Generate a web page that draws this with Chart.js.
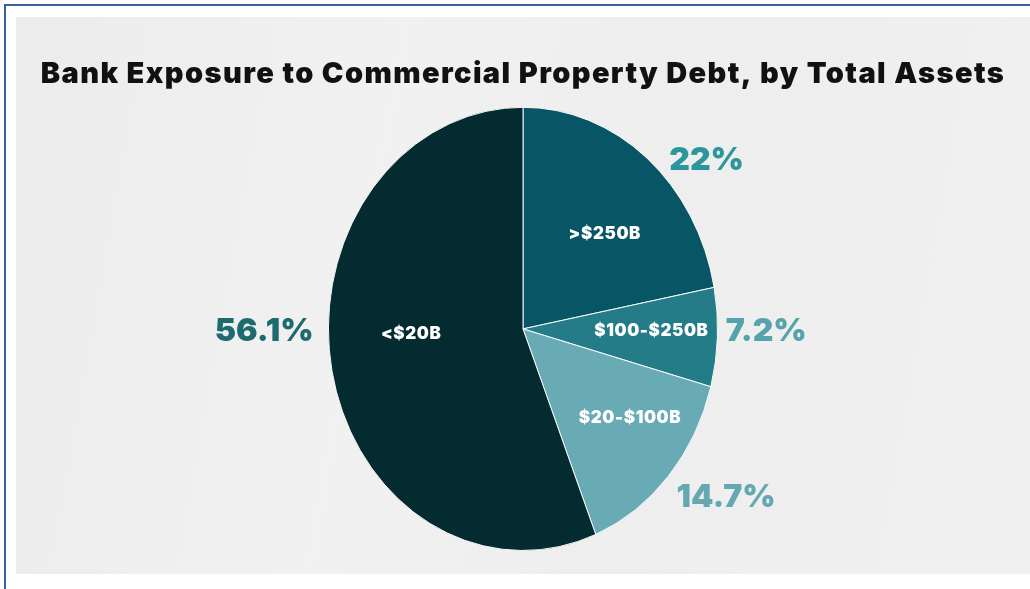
<!DOCTYPE html>
<html>
<head>
<meta charset="utf-8">
<script src="https://cdn.jsdelivr.net/npm/chart.js@4.4.0/dist/chart.umd.min.js"></script>
<style>
    html, body { margin: 0; padding: 0; background: #ffffff; }
    #frame {
        position: absolute; left: 4px; top: 4px; width: 1030px; height: 589px;
        border-top: 2px solid #3d5f9f; border-left: 2px solid #3d5f9f;
    }
    #panel {
        position: absolute; left: 16px; top: 17px; width: 1014px; height: 557px;
        background: linear-gradient(100deg, #ececec 0%, #f1f1f1 35%, #eeeeee 60%, #f0f0f0 100%);
    }
    #wrap { position: absolute; left: 0; top: 0; width: 1030px; height: 589px; }
</style>
</head>
<body>
<div id="frame"></div>
<div id="panel"></div>
<div id="wrap"><canvas id="exposureChart" width="1030" height="589"></canvas></div>
<script>
// Datos del gráfico (orden horario desde las 12)
const categories = ['>$250B', '$100-$250B', '$20-$100B', '<$20B'];
const shares = [22, 7.2, 14.7, 56.1];

// Colores
const sliceColors = ['#085665', '#237c87', '#69abb4', '#032b30'];
const pctColors = ['#2b979d', '#55a4ad', '#66a8b1', '#1d6b6f'];

// Ajustes de posición de etiquetas (estilo)
const squashX = 0.878;
const innerFrac = [0.6, 0.66, 0.68, 0.575];
const innerTweak = [4.9, -1.4, -5.6, 8.8];
const outerFrac = [1.216, 1.25, 1.29, 1.33];
const outerTweak = [11.3, -1.8, -5.6, 10.6];

const FONT = 'Inter, "Open Sans", sans-serif';

// Espaciado de letras para el título
const spacingPlugin = {
    id: 'spacing',
    beforeDraw(chart) { chart.ctx.letterSpacing = '1.4px'; },
    beforeDatasetsDraw(chart) { chart.ctx.letterSpacing = '0px'; }
};

// Aplastar el pastel para que sea una elipse
const ellipsePlugin = {
    id: 'ellipse',
    beforeDatasetsDraw(chart) {
        const arc = chart.getDatasetMeta(0).data[0];
        const ctx = chart.ctx;
        ctx.save();
        ctx.translate(arc.x, arc.y);
        ctx.scale(squashX, 1);
        ctx.translate(-arc.x, -arc.y);
    },
    afterDatasetsDraw(chart) {
        const ctx = chart.ctx;
        ctx.restore();

        const meta = chart.getDatasetMeta(0);
        ctx.save();
        ctx.textAlign = 'center';
        ctx.textBaseline = 'middle';
        meta.data.forEach((arc, i) => {
            const mid = (arc.startAngle + arc.endAngle) / 2;
            const r = arc.outerRadius;

            // Etiqueta interior
            let a = mid + innerTweak[i] * Math.PI / 180;
            let x = arc.x + Math.cos(a) * r * innerFrac[i] * squashX;
            let y = arc.y + Math.sin(a) * r * innerFrac[i];
            ctx.fillStyle = '#ffffff';
            ctx.letterSpacing = '0.6px';
            ctx.font = '900 17px ' + FONT;
            ctx.fillText(categories[i], x, y);

            // Porcentaje exterior
            a = mid + outerTweak[i] * Math.PI / 180;
            x = arc.x + Math.cos(a) * r * outerFrac[i] * squashX;
            y = arc.y + Math.sin(a) * r * outerFrac[i];
            ctx.fillStyle = pctColors[i];
            ctx.letterSpacing = '0px';
            ctx.font = '900 32px ' + FONT;
            ctx.fillText(shares[i] + '%', x, y + 1);
        });
        ctx.restore();
    }
};

new Chart(document.getElementById('exposureChart'), {
    type: 'pie',
    data: {
        labels: categories,
        datasets: [{
            data: shares,
            backgroundColor: sliceColors,
            borderColor: '#ffffff',
            borderWidth: 1
        }]
    },
    options: {
        responsive: false,
        devicePixelRatio: 1,
        animation: false,
        events: [],
        layout: {
            padding: { top: 40, left: 16, right: 0, bottom: 38 }
        },
        plugins: {
            legend: { display: false },
            tooltip: { enabled: false },
            title: {
                display: true,
                text: 'Bank Exposure to Commercial Property Debt, by Total Assets',
                color: '#111111',
                font: { family: FONT, size: 29, weight: '900' },
                padding: { top: 17, bottom: 15 }
            }
        }
    },
    plugins: [spacingPlugin, ellipsePlugin]
});
</script>
</body>
</html>
